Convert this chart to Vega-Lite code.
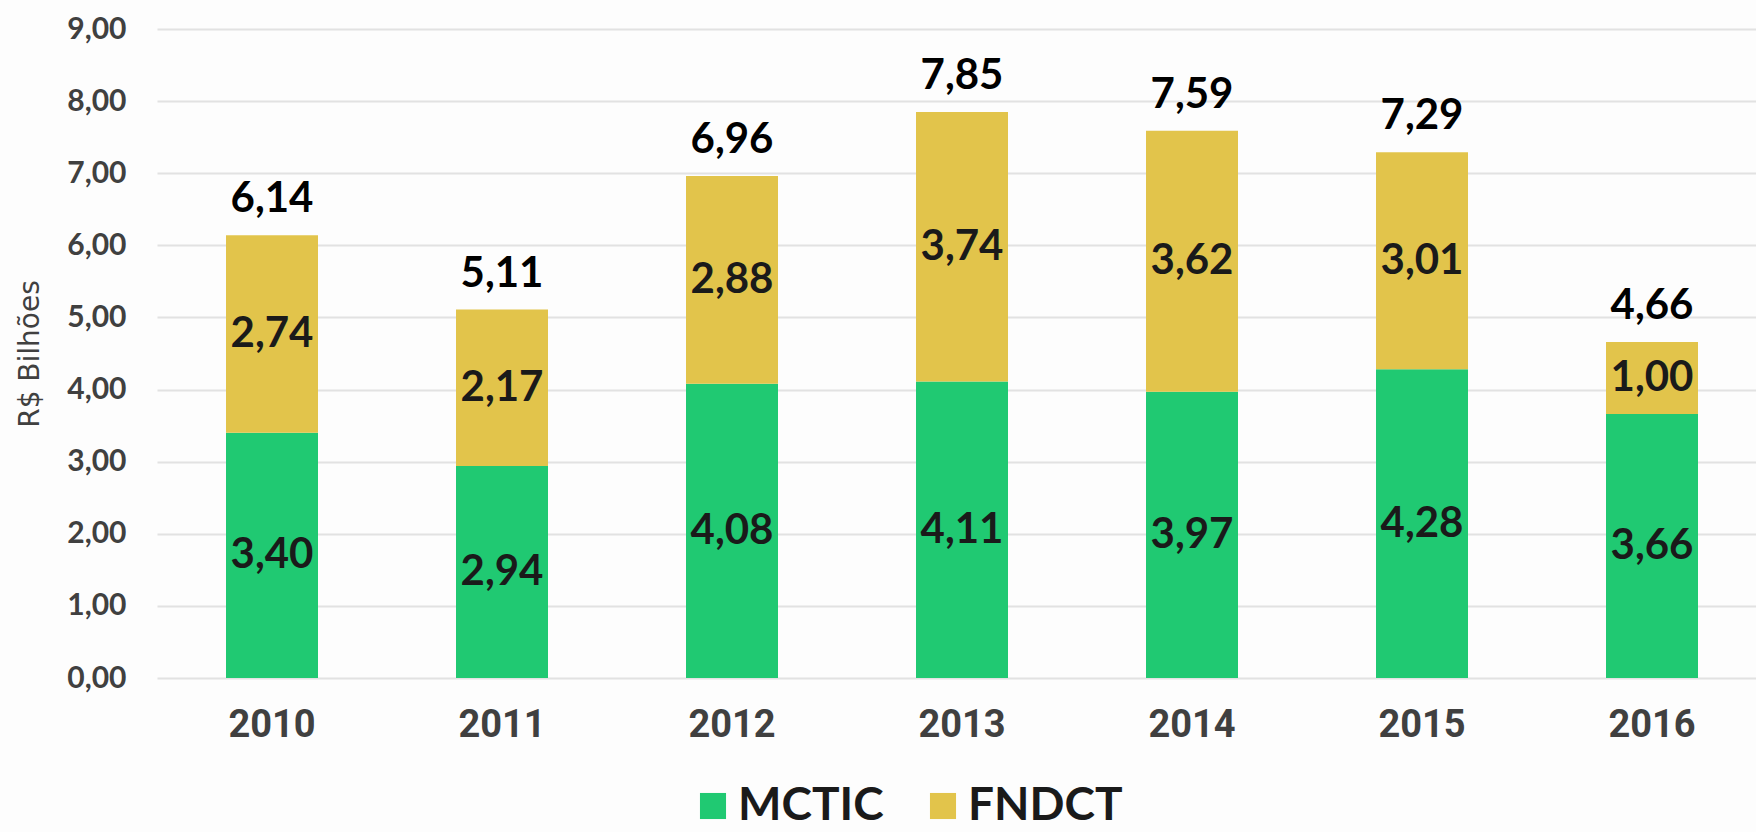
{
  "$schema": "https://vega.github.io/schema/vega-lite/v6.json",
  "width": 1610,
  "height": 649,
  "autosize": {"type": "none"},
  "padding": {"left": 157, "top": 29, "right": 0, "bottom": 154},
  "background": "#fdfdfd",
  "config": {
    "locale": {"number": {"decimal": ",", "thousands": ".", "grouping": [3], "currency": ["R$ ", ""]}},
    "view": {"stroke": null},
    "font": "Lato"
  },
  "data": {
    "values": [
      {"ano": "2010", "fonte": "MCTIC", "ordem": 1, "valor": 3.40},
      {"ano": "2010", "fonte": "FNDCT", "ordem": 2, "valor": 2.74},
      {"ano": "2011", "fonte": "MCTIC", "ordem": 1, "valor": 2.94},
      {"ano": "2011", "fonte": "FNDCT", "ordem": 2, "valor": 2.17},
      {"ano": "2012", "fonte": "MCTIC", "ordem": 1, "valor": 4.08},
      {"ano": "2012", "fonte": "FNDCT", "ordem": 2, "valor": 2.88},
      {"ano": "2013", "fonte": "MCTIC", "ordem": 1, "valor": 4.11},
      {"ano": "2013", "fonte": "FNDCT", "ordem": 2, "valor": 3.74},
      {"ano": "2014", "fonte": "MCTIC", "ordem": 1, "valor": 3.97},
      {"ano": "2014", "fonte": "FNDCT", "ordem": 2, "valor": 3.62},
      {"ano": "2015", "fonte": "MCTIC", "ordem": 1, "valor": 4.28},
      {"ano": "2015", "fonte": "FNDCT", "ordem": 2, "valor": 3.01},
      {"ano": "2016", "fonte": "MCTIC", "ordem": 1, "valor": 3.66},
      {"ano": "2016", "fonte": "FNDCT", "ordem": 2, "valor": 1.00}
    ]
  },
  "encoding": {
    "x": {
      "field": "ano", "type": "nominal",
      "scale": {"paddingInner": 0.6, "paddingOuter": 0.3},
      "axis": {"title": null, "labelAngle": 0, "labelFontSize": 38, "labelFontWeight": "bold", "labelColor": "#404040", "labelFont": "Roboto", "domain": false, "ticks": false, "labelPadding": 28}
    }
  },
  "layer": [
    {
      "mark": {"type": "bar"},
      "encoding": {
        "y": {
          "field": "valor", "type": "quantitative", "aggregate": "sum", "stack": "zero",
          "scale": {"domain": [0, 9], "nice": false},
          "axis": {
            "title": "R$ Bilhões", "titleFont": "DejaVu Sans", "titleFontSize": 28, "titleFontWeight": "normal", "titleColor": "#404040", "titlePadding": 22,
            "values": [0, 1, 2, 3, 4, 5, 6, 7, 8, 9], "format": ".2f",
            "labelFontSize": 30, "labelFontWeight": "bold", "labelColor": "#404040", "labelPadding": 31,
            "grid": true, "gridColor": "#e2e2e2", "gridWidth": 2, "domain": false, "ticks": false
          }
        },
        "color": {
          "field": "fonte", "type": "nominal",
          "scale": {"domain": ["MCTIC", "FNDCT"], "range": ["#20C972", "#E2C44B"]},
          "legend": {
            "title": null, "orient": "none", "legendX": 533, "legendY": 754, "direction": "horizontal", "symbolType": "square", "symbolSize": 680,
            "symbolStrokeWidth": 0, "labelFontSize": 46, "labelFontWeight": "bold", "labelColor": "#1a1a1a",
            "labelOffset": 2, "columnPadding": 36, "padding": 0
          }
        },
        "order": {"field": "ordem", "type": "quantitative"}
      }
    },
    {
      "transform": [
        {"stack": "valor", "groupby": ["ano"], "sort": [{"field": "ordem", "order": "ascending"}], "as": ["v0", "v1"]},
        {"calculate": "(datum.v0 + datum.v1) / 2", "as": "meio"}
      ],
      "mark": {"type": "text", "fontSize": 42, "fontWeight": "bold", "color": "#1a1a1a", "baseline": "middle"},
      "encoding": {
        "y": {"field": "meio", "type": "quantitative"},
        "text": {"field": "valor", "type": "quantitative", "format": ".2f"}
      }
    },
    {
      "mark": {"type": "text", "fontSize": 42, "fontWeight": "bold", "color": "#000000", "baseline": "bottom", "dy": -14},
      "encoding": {
        "y": {"field": "valor", "type": "quantitative", "aggregate": "sum"},
        "text": {"field": "valor", "type": "quantitative", "aggregate": "sum", "format": ".2f"}
      }
    }
  ]
}
